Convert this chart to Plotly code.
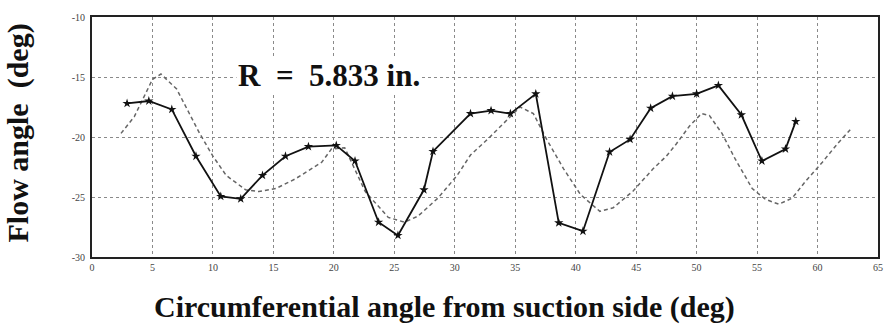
import plotly.graph_objects as go

# Measured (solid) flow angle
meas_x = [2.9, 4.7, 6.6, 8.6, 10.65, 12.3, 14.1, 16.0, 17.9, 20.2, 21.75, 23.7, 25.3,
          27.45, 28.2, 31.3, 33.0, 34.6, 36.7, 38.6, 40.6, 42.8, 44.5, 46.2, 48.0,
          50.0, 51.8, 53.7, 55.4, 57.35, 58.2]
meas_y = [-17.2, -17.0, -17.7, -21.6, -24.95, -25.15, -23.2, -21.6, -20.8, -20.7, -22.0,
          -27.1, -28.2, -24.4, -21.2, -18.05, -17.8, -18.05, -16.4, -27.15, -27.85,
          -21.25, -20.2, -17.6, -16.6, -16.4, -15.7, -18.15, -22.0, -21.0, -18.7]

# Predicted (dashed) flow angle
pred_x = [2.4, 3.5, 5.0, 5.7, 7.0, 8.05, 8.9, 10.0, 11.1, 12.7, 13.8, 15.2, 16.8, 19.0,
          19.8, 20.9, 22.6, 24.5, 25.85, 26.95, 28.6, 30.2, 31.3, 32.7, 34.3, 35.4,
          36.5, 37.6, 39.0, 40.4, 42.0, 43.1, 44.75, 46.4, 47.5, 48.3, 49.4, 50.4,
          51.05, 52.1, 53.2, 54.6, 55.7, 56.8, 57.9, 59.0, 60.4, 61.7, 62.7]
pred_y = [-19.7, -18.3, -15.2, -14.75, -16.0, -18.05, -19.7, -21.6, -23.2, -24.4, -24.55,
          -24.3, -23.5, -22.1, -21.0, -20.9, -24.55, -26.7, -27.1, -26.6, -25.1, -23.2,
          -21.5, -20.2, -18.6, -17.5, -18.05, -20.2, -22.65, -24.8, -26.2, -25.9, -24.5,
          -22.65, -21.6, -20.6, -19.1, -18.05, -18.2, -19.7, -21.85, -24.3, -25.2, -25.6,
          -25.1, -23.7, -22.1, -20.5, -19.4]

x_ticks = [0, 5, 10, 15, 20, 25, 30, 35, 40, 45, 50, 55, 60, 65]
y_ticks = [-30, -25, -20, -15, -10]

x_title = "Circumferential angle from suction side (deg)"
y_title = "Flow angle  (deg)"
note = "R  =  5.833 in."

serif = "Liberation Serif, Times New Roman, serif"

fig = go.Figure()
fig.add_trace(go.Scatter(
    x=pred_x, y=pred_y, mode="lines",
    line=dict(color="#666666", width=1.5, dash="4px,3px"),
    showlegend=False, hoverinfo="skip"))
fig.add_trace(go.Scatter(
    x=meas_x, y=meas_y, mode="lines+markers",
    line=dict(color="#111111", width=1.8),
    marker=dict(symbol="star", size=7, color="#111111"),
    showlegend=False, hoverinfo="skip"))

fig.add_annotation(x=19.6, y=-14.85, xref="x", yref="y", text="<b>" + note + "</b>",
                   showarrow=False, font=dict(family=serif, size=31, color="#111111"),
                   bgcolor="white")
fig.add_annotation(x=0.449, y=-0.207, xref="paper", yref="paper", xanchor="center",
                   yanchor="middle", text="<b>" + x_title + "</b>",
                   showarrow=False, font=dict(family=serif, size=30, color="#111111"))
fig.add_annotation(x=-0.094, y=0.515, xref="paper", yref="paper", xanchor="center",
                   yanchor="middle", textangle=-90, text="<b>" + y_title + "</b>",
                   showarrow=False, font=dict(family=serif, size=30, color="#111111"))

fig.update_xaxes(range=[0, 65], tickvals=x_ticks, ticktext=[str(v) for v in x_ticks],
                 showgrid=True, gridcolor="#8a8a8a", griddash="dot", gridwidth=1,
                 showline=True, linecolor="#222222", linewidth=2, mirror=True,
                 ticks="", zeroline=False,
                 tickfont=dict(family=serif, size=10, color="#444444"))
fig.update_yaxes(range=[-30, -10], tickvals=y_ticks, ticktext=[str(v) for v in y_ticks],
                 showgrid=True, gridcolor="#8a8a8a", griddash="dot", gridwidth=1,
                 showline=True, linecolor="#222222", linewidth=2, mirror=True,
                 ticks="outside", ticklen=3, tickcolor="white", zeroline=False,
                 tickfont=dict(family=serif, size=10, color="#444444"))

fig.update_layout(width=894, height=332, margin=dict(l=92, r=11, t=11, b=75),
                  plot_bgcolor="white", paper_bgcolor="white")

# remove the default 8px page margin so the figure fills the window exactly
fig.write_html("out.html", config={"displayModeBar": False},
               post_script="document.body.style.margin='0px';")
